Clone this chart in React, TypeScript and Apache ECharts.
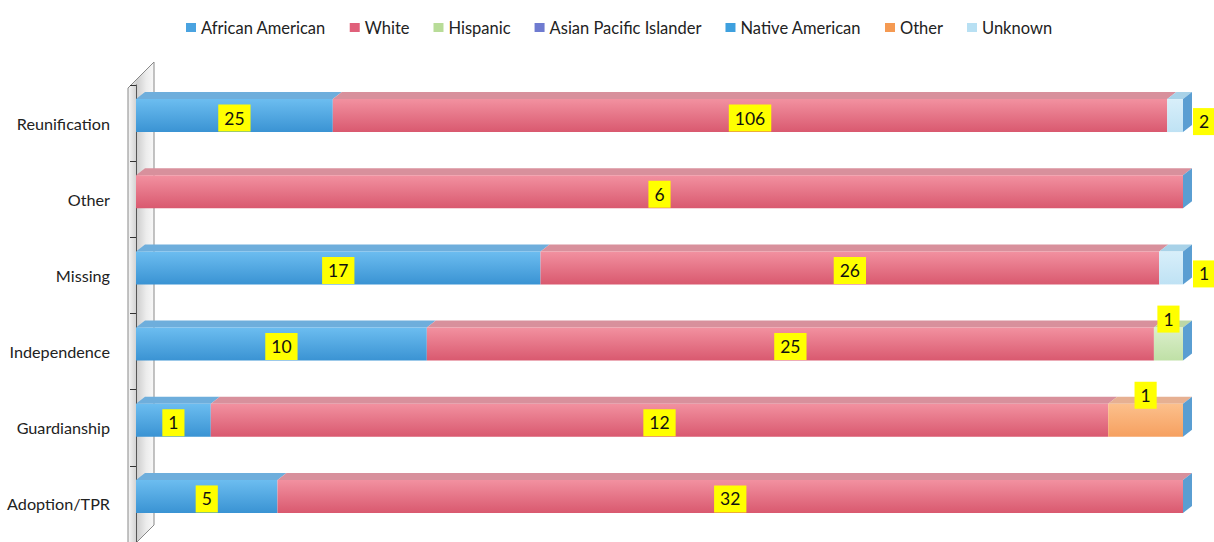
import React, { useEffect, useRef } from "react";
import * as echarts from "echarts";

const categories = ["Reunification", "Other", "Missing", "Independence", "Guardianship", "Adoption/TPR"];
const raceNames = ["African American", "White", "Hispanic", "Asian Pacific Islander", "Native American", "Other", "Unknown"];
const africanAmerican = [25, 0, 17, 10, 1, 5];
const white = [106, 6, 26, 25, 12, 32];
const hispanic = [0, 0, 0, 1, 0, 0];
const asianPacificIslander = [0, 0, 0, 0, 0, 0];
const nativeAmerican = [0, 0, 0, 0, 0, 0];
const otherRace = [0, 0, 0, 0, 1, 0];
const unknown = [2, 0, 1, 0, 0, 0];

const seriesValues = [africanAmerican, white, hispanic, asianPacificIslander, nativeAmerican, otherRace, unknown];

const FONT = "Lato, 'Open Sans', sans-serif";

const styles = [
  { legend: "#4aa3e0", top: "#6eaedc", f0: "#6cbdf0", f1: "#3a93d3", label: "inside" },
  { legend: "#e0607a", top: "#d8909c", f0: "#f291a0", f1: "#d9596f", label: "inside" },
  { legend: "#b8dc98", top: "#bcd6a6", f0: "#dcf0cc", f1: "#bfe0a6", label: "top" },
  { legend: "#6f7bd0", top: "#8a92d0", f0: "#8e97e0", f1: "#5e68c0", label: "inside" },
  { legend: "#3ea0de", top: "#5aa6d8", f0: "#5cb4ea", f1: "#2f8ccc", label: "inside" },
  { legend: "#f59a52", top: "#e6b092", f0: "#fcc08c", f1: "#f6a060", label: "top" },
  { legend: "#b8e0f3", top: "#a8d2e8", f0: "#d8effa", f1: "#bfe2f4", label: "right" },
];

export default function App() {
  const ref = useRef<HTMLDivElement>(null);
  useEffect(() => {
    if (!ref.current) return;
    const chart = echarts.init(ref.current, null, { renderer: "svg" });
    const totals = categories.map((_, i) => seriesValues.reduce((s, arr) => s + arr[i], 0));
    const lastIdx = categories.map((_, i) => {
      let l = -1;
      seriesValues.forEach((arr, k) => { if (arr[i] > 0) l = k; });
      return l;
    });
    const cum = categories.map(() => 0);
    const series: any[] = seriesValues.map((arr, k) => {
      const data = arr.map((v, i) => {
        const start = (cum[i] / totals[i]) * 100;
        cum[i] += v;
        const end = (cum[i] / totals[i]) * 100;
        return [start, end, i, v, lastIdx[i] === k ? 1 : 0];
      });
      const st = styles[k];
      return {
        type: "custom",
        name: raceNames[k],
        itemStyle: { color: st.legend },
        encode: { x: [0, 1], y: 2 },
        data,
        z: 10 + k,
        renderItem: (params: any, api: any) => {
          const v = api.value(3);
          if (!v) return null;
          const p0 = api.coord([api.value(0), api.value(2)]);
          const p1 = api.coord([api.value(1), api.value(2)]);
          const isLast = api.value(4) === 1;
          const dx = 9, dy = 7, h = 33;
          const cy = p0[1] - 7.5;
          const yt = cy - h / 2, yb = cy + h / 2;
          const x0 = p0[0], x1 = p1[0];
          const children: any[] = [
            {
              type: "polygon",
              shape: { points: [[x0, yt], [x0 + dx, yt - dy], [x1 + dx, yt - dy], [x1, yt]] },
              style: { fill: st.top },
            },
            {
              type: "rect",
              shape: { x: x0, y: yt, width: x1 - x0, height: h },
              style: {
                fill: new echarts.graphic.LinearGradient(0, 0, 0, 1, [
                  { offset: 0, color: st.f0 },
                  { offset: 1, color: st.f1 },
                ]),
              },
            },
          ];
          if (isLast) {
            children.push({
              type: "polygon",
              shape: { points: [[x1, yt], [x1 + dx, yt - dy], [x1 + dx, yb - dy], [x1, yb]] },
              style: { fill: "#5a9ed2" },
            });
          }
          const labelStyle = {
            text: String(v),
            fill: "#111",
            fontSize: 17.5,
            fontFamily: FONT,
            backgroundColor: "#ffff00",
            padding: [5, 6, 4, 6],
            verticalAlign: "middle",
          };
          if (st.label === "inside") {
            children.push({ type: "text", x: (x0 + x1) / 2, y: cy + 2.5, style: { ...labelStyle, align: "center" }, z2: 20 });
          } else if (st.label === "top") {
            children.push({ type: "text", x: (x0 + x1) / 2, y: cy - 25, style: { ...labelStyle, align: "center" }, z2: 20 });
          } else {
            children.push({ type: "text", x: x1 + dx + 1, y: cy + 6, style: { ...labelStyle, align: "left" }, z2: 20 });
          }
          return { type: "group", children };
        },
      };
    });

    chart.setOption({
      animation: false,
      textStyle: { fontFamily: FONT },
      legend: {
        data: raceNames,
        left: 181,
        top: 14,
        itemWidth: 10,
        itemHeight: 9,
        itemGap: 24,
        icon: "rect",
        textStyle: { fontSize: 16.5, color: "#222", fontFamily: FONT },
      },
      grid: { left: 136, right: 31, top: 85, height: 463, containLabel: false },
      xAxis: { type: "value", min: 0, max: 100, show: false },
      yAxis: {
        type: "category",
        data: categories,
        inverse: true,
        offset: 8,
        z: 5,
        axisLine: { show: true, lineStyle: { color: "#555", width: 1 } },
        axisTick: { show: true, length: 6, lineStyle: { color: "#333" } },
        axisLabel: { margin: 18, fontSize: 16.2, color: "#222", fontFamily: FONT },
      },
      graphic: [
        {
          type: "polygon",
          z: 1,
          shape: { points: [[128, 88], [154, 62], [154, 525], [128, 551]] },
          style: {
            fill: new echarts.graphic.LinearGradient(0, 0, 1, 0, [
              { offset: 0, color: "#f6f6f6" },
              { offset: 0.35, color: "#cfcfcf" },
              { offset: 0.7, color: "#ececec" },
              { offset: 1, color: "#f8f8f8" },
            ]),
            stroke: "#888",
            lineWidth: 1,
          },
        },
      ],
      series,
    });
    return () => chart.dispose();
  }, []);
  return <div ref={ref} style={{ position: "fixed", left: 0, top: 0, width: 1214, height: 542, background: "#fff" }} />;
}
